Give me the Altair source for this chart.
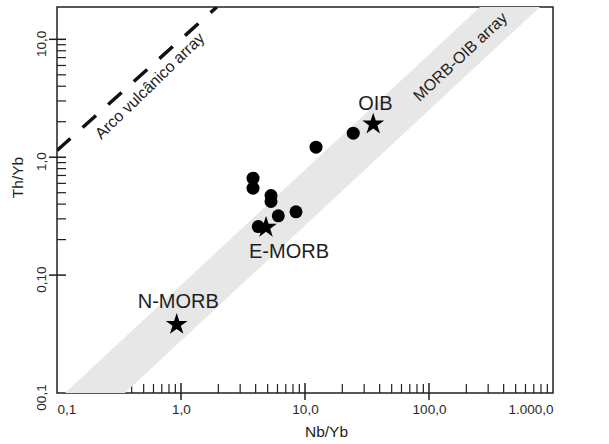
import altair as alt
import pandas as pd

# ---------------- data ----------------
circle_nb = [3.81, 3.81, 5.32, 5.32, 8.46, 6.09, 4.20, 12.27, 24.5]
circle_th = [0.664, 0.546, 0.473, 0.421, 0.344, 0.318, 0.258, 1.216, 1.60]

star_names = ["N-MORB", "E-MORB", "OIB"]
star_nb = [0.923, 4.85, 35.5]
star_th = [0.0381, 0.254, 1.908]
star_label_nb = [0.951, 7.43, 37.0]
star_label_th = [0.0588, 0.156, 2.83]

band_th = [0.01, 18.8]
band_nb_upper = [0.116, 257.8]
band_nb_lower = [0.353, 785.0]

arc_nb = [0.1, 1.945]
arc_th = [1.14, 18.8]

array_names = ["Arco vulcânico array", "MORB-OIB array"]
array_label_nb = [0.562, 179.5]
array_label_th = [4.02, 7.08]
array_angle = [316, 317]

x_tick_vals = [0.1, 1, 10, 100, 1000]
x_tick_text = ["0,1", "1,0", "10,0", "100,0", "1.000,0"]
y_tick_vals = [0.01, 0.1, 1, 10]
y_tick_text = ["00,1", "0,10", "1,0", "10,0"]

x_major = [1, 10, 100]
x_minor = [0.2, 0.3, 0.4, 0.5, 0.6, 0.7, 0.8, 0.9,
           2, 3, 4, 5, 6, 7, 8, 9,
           20, 30, 40, 50, 60, 70, 80, 90,
           200, 300, 400, 500, 600, 700, 800, 900]
y_major = [0.1, 1, 10]
y_minor = [0.2, 0.3, 0.4, 0.5, 0.6, 0.7, 0.8, 0.9,
           2, 3, 4, 5, 6, 7, 8, 9]

# ---------------- chart ----------------
W, H = 496, 386
FONT = "Liberation Sans"
INK = "#1e1e1e"


def label_expr(vals, texts):
    parts = [f"datum.value == {v} ? '{t}'" for v, t in zip(vals, texts)]
    return " : ".join(parts) + " : ''"


xscale = alt.Scale(type="log", domain=[0.1, 1000], nice=False)
yscale = alt.Scale(type="log", domain=[0.01, 18.8], nice=False)

xaxis = alt.Axis(values=x_tick_vals, labelExpr=label_expr(x_tick_vals, x_tick_text),
                 ticks=False, grid=False, domain=False, labelFlush=True,
                 labelFont=FONT, labelFontSize=13.5, labelColor="#2a2a2a", labelPadding=9,
                 title="Nb/Yb", titleFont=FONT, titleFontSize=15.5, titleFontWeight="normal",
                 titleColor=INK, titleX=269, titleY=38, titleBaseline="middle",
                 titleAlign="center")
yaxis = alt.Axis(values=y_tick_vals, labelExpr=label_expr(y_tick_vals, y_tick_text),
                 ticks=False, grid=False, domain=False, labelFlush=True, labelAngle=270,
                 labelOffset=4,
                 labelFont=FONT, labelFontSize=13.5, labelColor="#2a2a2a", labelPadding=9,
                 title="Th/Yb", titleFont=FONT, titleFontSize=15.5, titleFontWeight="normal",
                 titleColor=INK, titleX=-40, titleY=170, titleBaseline="middle",
                 titleAlign="center", titleAngle=270)


def X(field):
    return alt.X(field, type="quantitative", scale=xscale, axis=xaxis, title="Nb/Yb")


def Y(field):
    return alt.Y(field, type="quantitative", scale=yscale, axis=yaxis, title="Th/Yb")


band_df = pd.DataFrame({"th": band_th, "nb": band_nb_upper, "nb2": band_nb_lower})
band = alt.Chart(band_df).mark_area(orient="horizontal", color="#e7e7e7", clip=True).encode(
    y=Y("th"), x=X("nb"), x2="nb2"
)

xminor = alt.Chart(pd.DataFrame({"nb": x_minor})).mark_rule(color=INK, strokeWidth=1.2).encode(
    x=X("nb"), y=alt.value(H), y2=alt.value(H - 9))
xmajor = alt.Chart(pd.DataFrame({"nb": x_major})).mark_rule(color=INK, strokeWidth=1.5).encode(
    x=X("nb"), y=alt.value(H + 7), y2=alt.value(H - 10))
yminor = alt.Chart(pd.DataFrame({"th": y_minor})).mark_rule(color=INK, strokeWidth=1.2).encode(
    y=Y("th"), x=alt.value(0), x2=alt.value(9))
ymajor = alt.Chart(pd.DataFrame({"th": y_major})).mark_rule(color=INK, strokeWidth=1.5).encode(
    y=Y("th"), x=alt.value(-8), x2=alt.value(9))

arc_df = pd.DataFrame({"nb": arc_nb, "th": arc_th})
arc = alt.Chart(arc_df).mark_line(color="#111", strokeWidth=3.5, strokeDash=[18, 16.4],
                                  clip=True).encode(x=X("nb"), y=Y("th"))

circ_df = pd.DataFrame({"nb": circle_nb, "th": circle_th})
circles = alt.Chart(circ_df).mark_point(shape="circle", filled=True, color="#000",
                                        size=169, opacity=1).encode(x=X("nb"), y=Y("th"))

STAR = ("M0,-1L0.2245,-0.309L0.951,-0.309L0.363,0.118L0.588,0.809L0,0.382"
        "L-0.588,0.809L-0.363,0.118L-0.951,-0.309L-0.2245,-0.309Z")
star_df = pd.DataFrame({"name": star_names, "nb": star_nb, "th": star_th,
                        "lnb": star_label_nb, "lth": star_label_th})
stars = alt.Chart(star_df).mark_point(shape=STAR, filled=True, color="#000", size=529,
                                      opacity=1).encode(x=X("nb"), y=Y("th"))
star_text = alt.Chart(star_df).mark_text(font=FONT, fontSize=20, color=INK,
                                         baseline="middle", align="center").encode(
    x=X("lnb"), y=Y("lth"), text="name")

arr_layers = []
for name, nb, th, ang in zip(array_names, array_label_nb, array_label_th, array_angle):
    d = pd.DataFrame({"name": [name], "nb": [nb], "th": [th]})
    arr_layers.append(alt.Chart(d).mark_text(font=FONT, fontSize=16, color=INK, angle=ang,
                                             baseline="middle", align="center").encode(
        x=X("nb"), y=Y("th"), text="name"))

chart = alt.layer(xminor, yminor, band, xmajor, ymajor, arc, circles, stars, star_text,
                  *arr_layers).properties(
    width=W, height=H,
    autosize=alt.AutoSizeParams(type="none"),
    padding={"left": 57, "top": 7, "right": 56, "bottom": 51},
    background="white",
).configure_view(stroke="#222", strokeWidth=1.5)

chart.save("out.html", embed_options={"renderer": "svg", "actions": False})
